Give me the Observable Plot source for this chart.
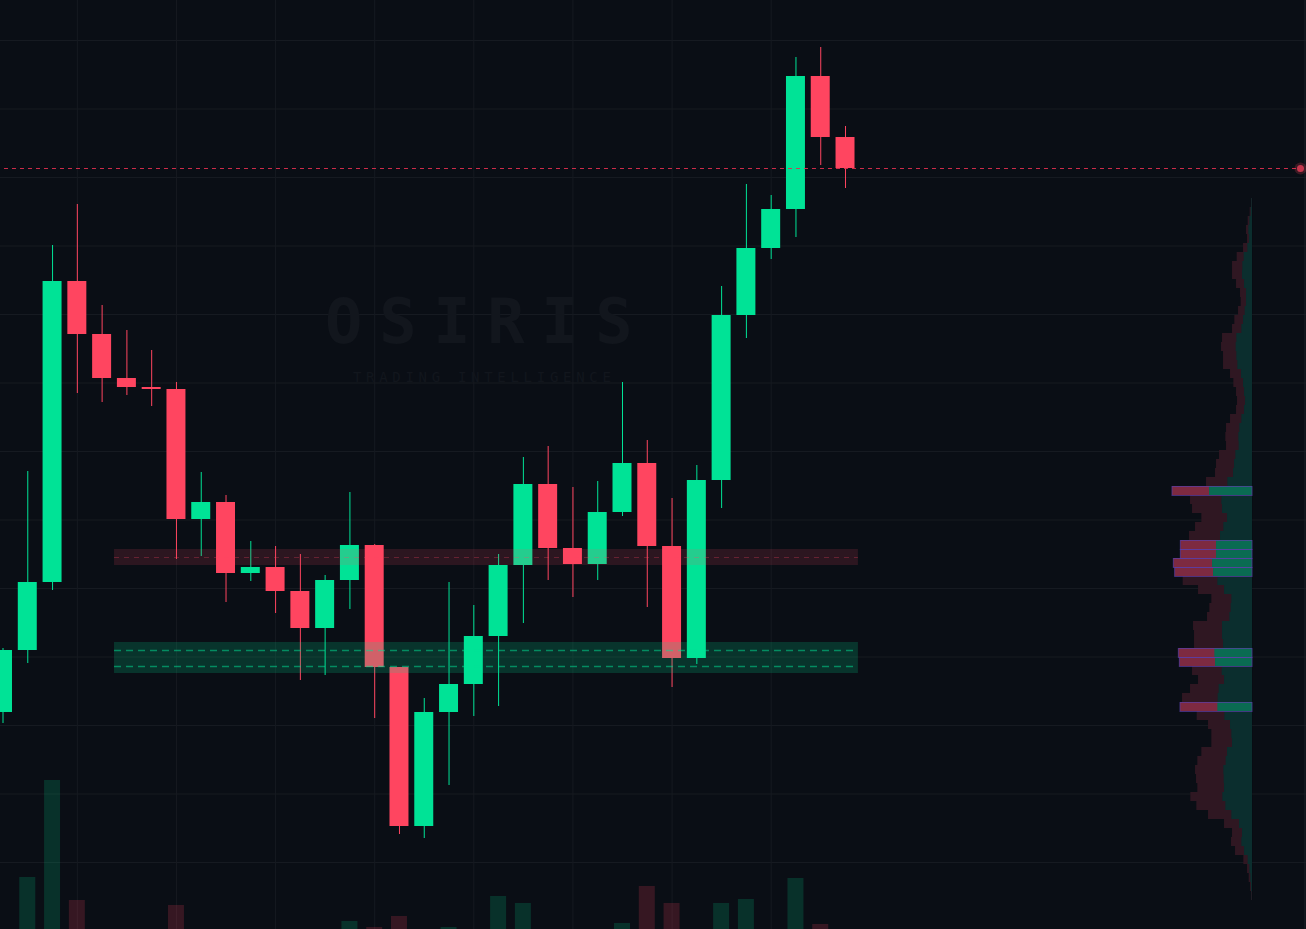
<!DOCTYPE html>
<html>
<head>
<meta charset="utf-8">
<script src="https://cdn.jsdelivr.net/npm/d3@7"></script>
<script src="https://cdn.jsdelivr.net/npm/@observablehq/plot@0.6"></script>
<style>
html,body{margin:0;padding:0;background:#0a0e15;overflow:hidden}
svg{display:block}
.wm-title text{letter-spacing:16.7px}
.wm-sub text{letter-spacing:4.7px}
</style>
</head>
<body>
<div id="chart"></div>
<script>
const candleOpen  = [288,350,418,719,666,622,613,611,481,498,427,433,409,372,420,455,333,174,288,316,364,435,516,452,436,488,537,454,342,520,685,752,791,924,863];
const candleClose = [350,418,719,666,622,613,611,481,498,427,433,409,372,420,455,333,174,288,316,364,435,516,452,436,488,537,454,342,520,685,752,791,924,863,832];
const candleHigh  = [352,529,755,796,695,670,650,618,528,505,459,454,446,425,508,456,333,302,418,395,446,543,554,513,519,618,560,502,535,714,816,805,943,953,874];
const candleLow   = [277,337,410,607,598,605,594,441,444,398,419,387,320,325,391,282,166,162,215,284,294,377,420,403,420,484,393,313,336,492,662,741,763,835,812];
const volume      = [0,52,149,29,0,0,0,24,0,0,0,0,0,0,8,2,13,0,2,0,33,26,0,0,0,6,43,26,0,26,30,0,51,5,0];

const gridPrices  = [960,891.5,823,754.5,686,617.5,549,480.5,412,343.5,275,206.5,138];
const gridBars    = [3,7,11,15,19,23,27,31];

const profileTotal = [3,7,13,18,15,27,46,60,60,48,36,34,42,53,60,90,93,87,87,66,56,48,45,48,66,78,80,78,99,108,111,138,240,186,180,152,171,189,215,215,236,232,208,162,122,128,135,177,174,174,221,218,180,162,186,210,216,166,132,122,122,152,164,171,168,164,185,167,132,84,60,63,51,26,15,10,6,3];
const profileBuy   = [2,4,8,11,9,14,25,29,30,24,18,18,22,27,32,47,49,47,44,33,27,24,21,24,32,38,41,40,50,54,57,74,129,92,90,75,86,96,108,108,120,117,104,84,62,64,68,90,90,87,113,111,91,84,100,103,104,83,66,62,60,75,79,86,85,84,89,80,62,39,30,32,24,13,8,5,3,1];
const profileHot   = [32,38,39,40,41,50,51,56];
const profileTopPrice = 802;
const profileStep = 9;
const profileRight = 50.424;
const profileUnit = 1 / 74.34;

const resistanceZone = {low: 435, high: 451, lines: [443]};
const supportZone = {low: 327, high: 358, lines: [350, 334]};
const zoneStart = 4.5, zoneEnd = 34.52;
const lastPrice = 832;
const lineStart = 0.06, lineEnd = 52.36, borderBar = 52.54;

const volumeBase = 71;
const GREEN = "#00e396", RED = "#ff4560", BG = "#0a0e15", GRID = "#161a21";

const candles = candleOpen.map((o, i) => ({
  i, o, c: candleClose[i], h: candleHigh[i], l: candleLow[i], v: volume[i],
  up: candleClose[i] >= o
}));
const rows = profileTotal.map((t, k) => ({
  k, total: t, buy: profileBuy[k], hot: profileHot.includes(k),
  y1: profileTopPrice - profileStep * k,
  y2: profileTopPrice - profileStep * (k + 1),
  xTotal: profileRight - t * profileUnit,
  xBuy: profileRight - profileBuy[k] * profileUnit
}));
const bodyHalf = 0.383, volHalf = 0.3229;

const chart = Plot.plot({
  width: 1306, height: 929,
  margin: 0,
  style: {background: BG},
  x: {domain: [-0.1009, 52.6029], range: [0, 1306], axis: null},
  y: {domain: [71, 1000], range: [929, 0], axis: null},
  marks: [
    Plot.ruleY(gridPrices, {stroke: GRID, strokeWidth: 1}),
    Plot.ruleX(gridBars, {stroke: GRID, strokeWidth: 1}),
    Plot.ruleX([borderBar], {stroke: "#1c2028", strokeWidth: 1}),
    Plot.text(["OSIRIS"], {x: 19.54, y: 677, text: d => d, fontFamily: "DejaVu Sans Mono", fontWeight: "bold", fontSize: 62, fill: "#12161d", className: "wm-title"}),
    Plot.text(["TRADING INTELLIGENCE"], {x: 19.42, y: 623, text: d => d, fontFamily: "DejaVu Sans Mono", fontSize: 14, fill: "#12161d", className: "wm-sub"}),
    // volume
    Plot.rect(candles.filter(d => d.v > 0), {
      x1: d => d.i - volHalf, x2: d => d.i + volHalf,
      y1: volumeBase, y2: d => volumeBase + d.v,
      fill: d => d.up ? GREEN : RED, fillOpacity: d => d.up ? 0.17 : 0.18
    }),
    // volume profile
    Plot.rect(rows, {x1: "xTotal", x2: profileRight, y1: "y1", y2: "y2", fill: d => d.hot ? "#7d2a41" : "#2f1722"}),
    Plot.rect(rows, {x1: "xBuy", x2: profileRight, y1: "y1", y2: "y2", fill: d => d.hot ? "#0a6b52" : "#0b2e2e"}),
    Plot.rect(rows.filter(d => d.hot), {x1: "xTotal", x2: profileRight, y1: "y1", y2: "y2", fill: "none", stroke: "#5a3fa8", strokeOpacity: 0.7, strokeWidth: 1, dy: 0.5}),
    // candles
    Plot.ruleX(candles, {x: "i", y1: "l", y2: "h", stroke: d => d.up ? GREEN : RED, strokeWidth: 1}),
    Plot.rect(candles, {
      x1: d => d.i - bodyHalf, x2: d => d.i + bodyHalf,
      y1: d => Math.min(d.o, d.c), y2: d => Math.max(d.o, d.c),
      fill: d => d.up ? GREEN : RED
    }),
    // zones
    Plot.rect([resistanceZone], {x1: zoneStart, x2: zoneEnd, y1: "low", y2: "high", fill: RED, fillOpacity: 0.14}),
    Plot.rect([supportZone], {x1: zoneStart, x2: zoneEnd, y1: "low", y2: "high", fill: GREEN, fillOpacity: 0.18}),
    Plot.ruleY(resistanceZone.lines, {x1: zoneStart, x2: zoneEnd, stroke: RED, strokeOpacity: 0.28, strokeWidth: 1, strokeDasharray: "5 5"}),
    Plot.ruleY(supportZone.lines, {x1: zoneStart, x2: zoneEnd, stroke: GREEN, strokeOpacity: 0.5, strokeWidth: 1.5, strokeDasharray: "7 5"}),
    // last price
    Plot.ruleY([lastPrice], {x1: lineStart, x2: lineEnd, stroke: "#e0304f", strokeOpacity: 0.9, strokeWidth: 1, strokeDasharray: "4 4"}),
    Plot.dot([lastPrice], {x: lineEnd, y: d => d, r: 6, fill: RED, fillOpacity: 0.2, stroke: "none"}),
    Plot.dot([lastPrice], {x: lineEnd, y: d => d, r: 3.5, fill: RED, fillOpacity: 0.7, stroke: "none"})
  ]
});
document.getElementById("chart").append(chart);
</script>
</body>
</html>
